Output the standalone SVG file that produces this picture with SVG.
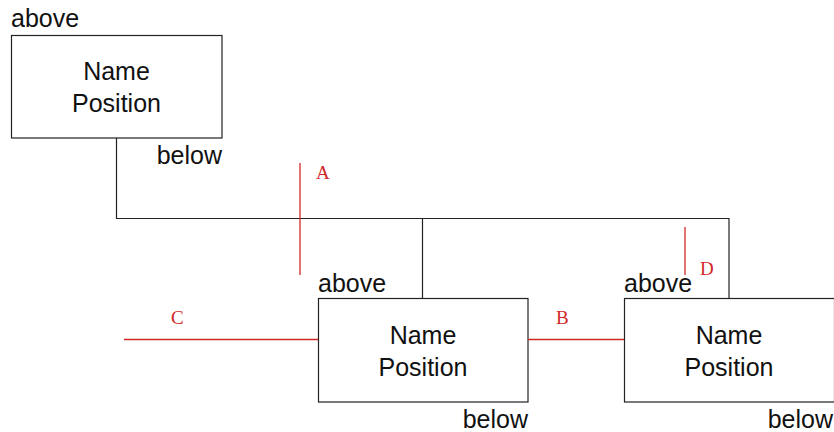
<svg xmlns="http://www.w3.org/2000/svg" width="834" height="432" viewBox="0 0 834 432">
<style>
.box{fill:#fff;stroke:#222;stroke-width:1.2}
.t{font-family:"Liberation Sans",Arial,sans-serif;font-size:25px;fill:#111}
.c{text-anchor:middle}
.r{text-anchor:end}
.conn{fill:none;stroke:#222;stroke-width:1.2}
.red{stroke:#d02828;stroke-width:1.3;fill:none}
.rt{font-family:"Liberation Serif","Times New Roman",serif;font-size:19px;fill:#d02828}
</style>
<rect width="834" height="432" fill="#fff"/>
<g id="connectors">
<path class="conn" d="M116.5 138 V218.5 H729 V298 M422.5 218.5 V298"/>
</g>
<g id="node1">
<text class="t" x="11" y="27">above</text>
<rect class="box" x="11.5" y="35.5" width="210.5" height="102.5"/>
<text class="t c" x="116.5" y="80">Name</text>
<text class="t c" x="116.5" y="112">Position</text>
<text class="t r" x="222" y="164">below</text>
</g>
<g id="node2">
<text class="t" x="318" y="292">above</text>
<rect class="box" x="318.5" y="298.5" width="209.5" height="103.5"/>
<text class="t c" x="423" y="344">Name</text>
<text class="t c" x="423" y="376">Position</text>
<text class="t r" x="528" y="428">below</text>
</g>
<g id="node3">
<text class="t" x="624" y="292">above</text>
<rect class="box" x="624.5" y="298.5" width="210" height="103.5"/>
<text class="t c" x="729" y="344">Name</text>
<text class="t c" x="729" y="376">Position</text>
<text class="t r" x="833" y="428">below</text>
</g>
<g id="annotations">
<line class="red" x1="300" y1="163" x2="300" y2="275"/>
<text class="rt" x="316" y="179">A</text>
<line class="red" x1="685" y1="227" x2="685" y2="275"/>
<text class="rt" x="700" y="275">D</text>
<line class="red" x1="124" y1="339.5" x2="318" y2="339.5"/>
<text class="rt" x="171" y="324">C</text>
<line class="red" x1="528" y1="339.5" x2="624" y2="339.5"/>
<text class="rt" x="556" y="324">B</text>
</g>
</svg>
